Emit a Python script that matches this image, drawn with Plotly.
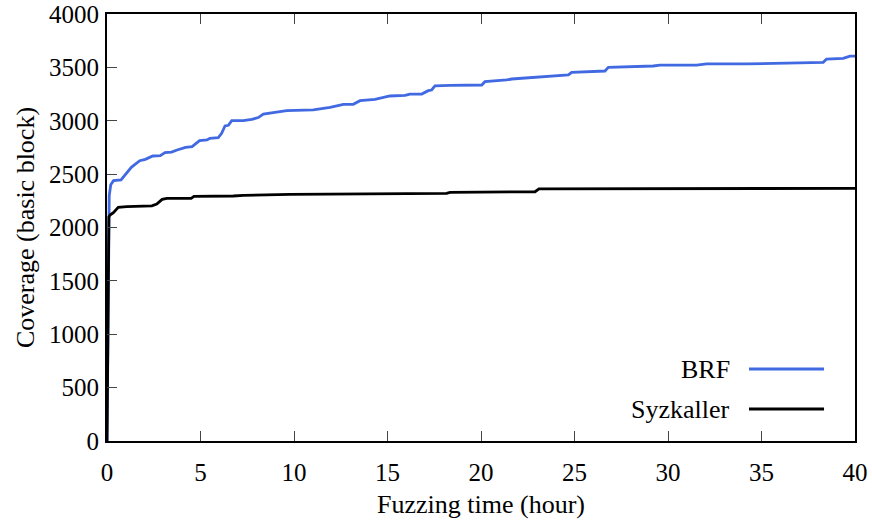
import plotly.graph_objects as go

# Coverage over fuzzing time (hours -> basic blocks)
brf_hours = [0, 0.12, 0.2, 0.35, 0.75, 0.95, 1.3, 1.75, 2.05, 2.45, 2.85, 3.1, 3.45,
             3.75, 4.0, 4.2, 4.55, 4.95, 5.35, 5.5, 5.95, 6.13, 6.31, 6.49, 6.67,
             7.29, 7.74, 8.09, 8.36, 8.89, 9.61, 11.03, 11.93, 12.64, 13.17, 13.53,
             14.33, 15.13, 15.94, 16.2, 16.83, 17.18, 17.36, 17.54, 18.34, 20.04,
             20.21, 21.37, 21.64, 24.67, 24.85, 26.63, 26.81, 29.21, 29.57, 31.53,
             32.07, 34.21, 37.24, 38.3, 38.48, 39.37, 39.73, 40]
brf_cov = [0, 2300, 2400, 2439, 2445, 2490, 2564, 2626, 2638, 2670, 2673, 2701, 2707,
           2726, 2738, 2751, 2757, 2813, 2820, 2836, 2842, 2882, 2951, 2957, 3001,
           3001, 3013, 3030, 3063, 3076, 3094, 3101, 3126, 3154, 3154, 3188,
           3201, 3232, 3238, 3250, 3250, 3282, 3288, 3326, 3332, 3335,
           3366, 3382, 3391, 3429, 3454, 3466, 3500, 3513, 3522, 3522,
           3532, 3532, 3538, 3547, 3578, 3585, 3606, 3606]

syz_hours = [0, 0.1, 0.16, 0.34, 0.6, 1.05, 2.4, 2.66, 2.95, 3.2, 4.5, 4.65, 6.75,
             7.29, 9.79, 13, 18.16, 18.34, 22.89, 23.1, 29.04, 29.21, 40]
syz_cov = [0, 2100, 2117, 2139, 2189, 2195, 2203, 2220, 2264, 2273, 2273, 2292, 2295,
           2301, 2311, 2314, 2320, 2329, 2335, 2361, 2361, 2367, 2367]

x_ticks = [0, 5, 10, 15, 20, 25, 30, 35, 40]
y_ticks = [0, 500, 1000, 1500, 2000, 2500, 3000, 3500, 4000]

series = [("BRF", brf_hours, brf_cov, "#4169E1"),
          ("Syzkaller", syz_hours, syz_cov, "#000000")]

FONT = "Liberation Serif, Times New Roman, serif"
FS_TICK = 25
FS_TEXT = 26

fig = go.Figure()
for name, xs, ys, color in series:
    fig.add_trace(go.Scatter(x=xs, y=ys, mode="lines", name=name,
                             line=dict(color=color, width=2.8), showlegend=False))

# Key: label on the left, line sample on the right
key_rows = [0.1686, 0.0749]
for (name, _, _, color), ky in zip(series, key_rows):
    fig.add_annotation(xref="paper", yref="paper", x=0.8356, y=ky, text=name,
                       showarrow=False, xanchor="right", yanchor="middle",
                       font=dict(family=FONT, size=FS_TEXT, color="#000"))
    fig.add_shape(type="line", xref="paper", yref="paper", x0=0.8583, x1=0.9586,
                  y0=ky, y1=ky, line=dict(color=color, width=2.8))

axis_common = dict(showgrid=False, zeroline=False, showline=True, linecolor="#000",
                   linewidth=2, ticks="inside", ticklen=10, tickwidth=1,
                   tickcolor="#444", automargin=False,
                   tickfont=dict(family=FONT, size=FS_TICK, color="#000"))

fig.update_xaxes(range=[0, 40], tickvals=x_ticks, mirror="ticks",
                 ticklabelstandoff=8,
                 title=dict(text="Fuzzing time (hour)", font=dict(family=FONT, size=FS_TEXT),
                            standoff=10),
                 **axis_common)
fig.update_yaxes(range=[0, 4000], tickvals=y_ticks, mirror=True,
                 ticklabelstandoff=1,
                 title=dict(text="Coverage (basic block)", font=dict(family=FONT, size=FS_TEXT),
                            standoff=7),
                 **axis_common)

fig.update_layout(width=872, height=523, margin=dict(l=107, r=17, t=14, b=82),
                  plot_bgcolor="#fff", paper_bgcolor="#fff",
                  font=dict(family=FONT, color="#000"))

fig.write_html("out.html")
